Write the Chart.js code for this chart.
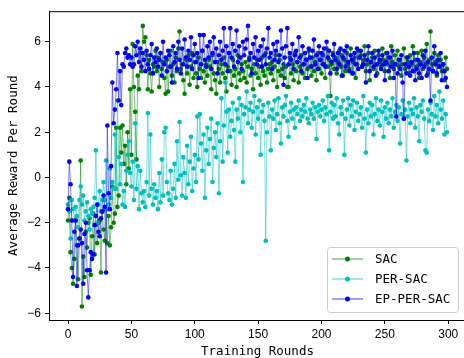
<!DOCTYPE html>
<html>
<head>
<meta charset="utf-8">
<script src="https://cdn.jsdelivr.net/npm/chart.js@4/dist/chart.umd.min.js"></script>
<style>
  html, body { margin:0; padding:0; background:#fff; overflow:hidden; }
  #wrap { width:464px; height:358px; overflow:hidden; }
</style>
</head>
<body>
<div id="wrap"><canvas id="rewardChart" width="470" height="358"></canvas></div>
<script>
// rounds 0..299 on the x axis
const ROUNDS = Array.from({length: 300}, (_, i) => i);
const X_TICKS = [0, 50, 100, 150, 200, 250, 300];
const Y_TICKS = [-6, -4, -2, 0, 2, 4, 6];
const SERIES_NAMES = ['SAC', 'PER-SAC', 'EP-PER-SAC'];

const SAC = [
  -1.9, -0.9, -3.3, -4.0, -4.7, -3.6, -1.9, -3.0, -4.5, -2.7,
  0.75, -5.7, -3.5, -4.4, -2.4, -3.1, -2.0, -1.8, -4.3, -2.6,
  -1.6, -3.4, -2.1, -2.9, -2.0, -1.9, -4.2, -1.5, -2.3, -2.8,
  -1.4, -2.9, -1.7, -3.0, -2.2, -0.4, -2.0, -1.6, 2.2, -1.3,
  -0.8, 2.2, 1.1, 2.3, 0.6, 1.4, -0.3, 2.0, 0.4, 3.9,
  1.0, 5.9, 4.0, 2.9, 0.8, 4.5, 3.9, 5.5, 4.7, 6.7,
  6.0, 6.2, 5.4, 3.9, 5.2, 4.6, 3.8, 5.0, 4.9, 5.6,
  4.7, 5.3, 4.0, 5.5, 4.8, 5.1, 4.4, 3.7, 5.2, 3.8,
  4.9, 5.6, 4.5, 5.0, 4.2, 5.3, 4.7, 5.7, 6.45, 4.8,
  5.0, 4.3, 3.7, 5.2, 4.6, 5.4, 4.1, 4.9, 5.5, 4.4,
  5.1, 4.6, 4.0, 5.3, 4.8, 4.4, 5.6, 4.7, 4.2, 5.0,
  4.5, 5.2, 4.9, 3.9, 5.4, 4.6, 4.3, 3.7, 5.1, 4.8,
  4.2, 5.0, 4.6, 5.3, 4.4, 3.8, 4.9, 5.5, 4.7, 4.1,
  5.2, 4.5, 4.8, 4.0, 5.4, 4.6, 4.3, 5.0, 4.7, 4.4,
  5.1, 4.2, 4.9, 5.3, 4.5, 4.8, 3.9, 5.0, 4.6, 5.2,
  4.4, 4.9, 4.1, 5.3, 4.7, 4.5, 5.5, 4.2, 4.8, 5.0,
  4.6, 5.1, 4.3, 4.9, 5.4, 4.0, 4.7, 5.2, 4.5, 4.8,
  5.0, 4.4, 4.9, 4.0, 4.0, 5.3, 4.6, 5.0, 4.3, 5.5,
  4.7, 5.1, 4.2, 4.9, 5.4, 4.6, 5.0, 4.4, 5.2, 4.8,
  5.6, 4.9, 4.5, 5.3, 4.7, 5.1, 4.3, 5.5, 4.8, 5.2,
  4.6, 5.4, 5.0, 4.4, 5.7, 4.9, 5.2, 3.6, 5.0, 5.5,
  4.8, 5.3, 4.6, 5.1, 5.6, 4.9, 5.4, 4.5, 5.2, 4.7,
  5.5, 5.0, 4.8, 5.7, 4.6, 5.1, 5.3, 4.4, 5.0, 5.6,
  5.3, 5.4, 4.9, 5.2, 5.8, 4.7, 5.0, 5.5, 4.3, 5.1,
  5.3, 4.8, 5.6, 5.0, 4.6, 5.4, 5.1, 4.9, 5.7, 5.2,
  4.7, 5.5, 5.0, 5.3, 4.4, 5.8, 5.1, 4.8, 5.4, 5.0,
  5.6, 4.9, 5.2, 4.5, 5.0, 5.7, 4.8, 5.3, 5.1, 4.6,
  5.4, 5.0, 5.8, 4.7, 5.2, 4.9, 5.5, 4.4, 5.1, 5.6,
  4.8, 5.3, 5.0, 5.9, 4.6, 5.2, 6.45, 5.0, 4.7, 5.5,
  5.1, 4.5, 5.4, 4.9, 5.2, 4.7, 5.0, 4.3, 5.3, 4.8
];

const PER_SAC = [
  -1.2, -1.5, -2.7, -1.0, -1.4, -1.9, -1.3, -1.7, -2.2, -1.0,
  -0.4, -1.2, -0.8, -1.9, -1.5, -1.1, -1.7, -2.3, -1.4, -1.6,
  -1.3, -0.9, 1.2, -2.0, -1.2, -0.6, -1.5, -1.0, -0.2, -1.0,
  0.75, -1.4, -1.2, 0.4, -0.9, -0.2, -0.5, 1.9, -0.5, 3.4,
  0.9, -0.3, 0.6, -1.2, -0.6, -1.3, 0.3, 1.0, 1.6, 0.2,
  -0.4, 0.7, -1.0, 2.4, -0.5, 0.5, -1.4, 0.3, -0.7, -1.1,
  -0.6, -1.3, -0.2, 2.85, -0.8, 1.9, -0.5, -1.2, -0.3, -0.9,
  -0.6, -1.4, 0.2, -1.1, 0.8, -0.8, 2.0, 2.2, -0.2, -0.7,
  -1.0, 0.3, -1.2, -0.5, 0.6, -0.9, 1.6, -0.1, 2.45, 0.1,
  -0.8, 0.9, 0.2, -0.9, 1.4, -0.3, 0.7, 1.8, -0.6, 0.4,
  1.0, -0.2, 2.7, 0.8, 2.8, 1.5, 0.3, 1.9, -0.9, 1.2,
  2.2, 0.6, 1.7, 2.6, -0.2, 1.3, 2.0, 0.9, 2.4, -0.7,
  1.6, 3.5, 0.7, 2.3, 4.2, 2.9, 1.1, 3.0, 1.8, 2.5,
  3.3, 2.1, 0.7, 3.0, 2.6, 3.5, 2.0, 3.2, -0.2, 2.8,
  3.1, 3.8, 2.4, 3.0, 3.3, 2.2, 2.9, 3.6, 1.9, 3.1,
  2.6, 3.4, 1.0, 2.9, 3.2, 2.5, -2.8, 2.0, 3.3, 2.7,
  1.2, 3.0, 2.6, 3.4, 2.1, 2.8, 3.5, 2.4, 1.5, 3.1,
  2.7, 3.2, 3.6, 2.5, 1.8, 2.9, 3.3, 2.6, 3.0, 2.2,
  3.1, 2.8, 3.4, 2.5, 3.0, 2.7, 3.2, 2.9, 3.5, 2.6,
  2.4, 3.0, 2.8, 3.3, 2.6, 3.1, 1.7, 2.9, 3.2, 2.7,
  3.0, 3.4, 2.5, 3.1, 2.8, 3.6, 1.2, 2.9, 3.3, 2.6,
  3.2, 2.7, 3.5, 2.4, 1.9, 3.1, 2.8, 3.4, 1.0, 2.6,
  3.0, 3.5, 2.3, 3.2, 2.7, 3.4, 2.1, 2.9, 3.3, 2.5,
  2.8, 3.1, 2.2, 3.6, 2.6, 1.1, 3.0, 2.4, 3.3, 2.7,
  3.2, 1.9, 2.8, 3.5, 2.5, 3.0, 2.3, 3.4, 2.9, 1.8,
  3.1, 2.6, 3.3, 2.4, 3.0, 2.7, 3.5, 2.2, 2.9, 3.2,
  2.5, 3.1, 1.5, 2.8, 3.4, 2.6, 3.0, 0.75, 2.7, 3.3,
  2.4, 3.0, 2.8, 3.5, 2.2, 3.1, 2.7, 1.6, 3.2, 2.9,
  3.4, 2.6, 1.2, 1.1, 3.0, 2.5, 3.3, 2.8, 2.1, 3.6,
  2.7, 3.2, 2.4, 3.8, 3.0, 2.6, 3.4, 1.9, 2.8, 2.0
];

const EP_PER_SAC = [
  -1.4, 0.7, -0.3, -1.9, -4.4, -2.4, -1.9, -4.8, -3.0, -2.7,
  -2.3, -2.9, -4.7, -2.5, -2.0, -4.1, -5.3, -4.1, -3.3, -3.6,
  -3.4, -2.1, -1.7, -1.2, -2.4, -2.6, -1.8, -1.5, -0.8, -1.3,
  -4.2, 2.3, -0.7, -1.4, 0.5, 4.2, 2.4, 3.0, 3.9, 5.5,
  3.4, 4.7, 3.2, 5.0, 4.9, 5.5, 5.7, 5.3, 5.4, 5.0,
  5.3, 4.9, 5.0, 5.8, 5.4, 6.0, 5.1, 5.7, 4.9, 5.5,
  5.2, 4.7, 5.6, 5.0, 4.8, 5.4, 5.9, 4.6, 5.3, 5.1,
  5.7, 4.9, 5.2, 5.5, 4.5, 6.0, 5.0, 5.3, 4.7, 5.6,
  5.4, 4.9, 4.2, 5.8, 5.1, 5.5, 4.8, 6.0, 5.2, 4.6,
  5.7, 5.0, 6.1, 5.3, 4.9, 5.6, 5.2, 6.2, 4.8, 5.4,
  5.9, 5.1, 5.5, 4.4, 6.3, 5.0, 5.6, 6.3, 5.2, 4.9,
  5.8, 5.3, 6.0, 4.8, 5.5, 6.2, 5.1, 5.7, 4.6, 5.4,
  6.0, 5.2, 5.6, 6.6, 5.0, 5.8, 4.7, 5.5, 6.6, 5.3,
  5.9, 4.9, 5.6, 6.5, 5.1, 5.8, 5.3, 4.8, 6.0, 5.4,
  5.7, 6.1, 6.7, 5.2, 5.5, 4.6, 5.9, 5.3, 6.2, 5.0,
  5.6, 5.2, 5.8, 4.9, 6.1, 5.4, 5.0, 5.7, 6.6, 5.3,
  5.5, 4.8, 5.9, 5.2, 5.6, 6.0, 5.1, 5.4, 6.5, 5.7,
  4.1, 5.3, 5.8, 6.6, 5.0, 5.5, 5.2, 5.9, 4.8, 5.4,
  5.6, 5.1, 6.2, 5.3, 4.7, 5.8, 5.0, 5.5, 5.2, 4.4,
  5.7, 5.3, 4.9, 5.6, 6.1, 5.0, 5.4, 4.8, 5.8, 5.2,
  5.5, 5.0, 5.7, 4.9, 6.0, 5.3, 5.6, 4.6, 5.1, 5.4,
  5.9, 5.2, 4.8, 5.5, 5.0, 5.7, 4.5, 5.3, 5.6, 4.9,
  5.8, 5.1, 4.7, 5.4, 5.2, 4.6, 5.5, 5.0, 5.7, 4.8,
  5.3, 5.6, 4.9, 5.0, 5.4, 4.2, 5.2, 5.8, 4.7, 5.1,
  5.5, 4.9, 5.3, 4.5, 5.0, 5.6, 5.2, 4.8, 5.4, 5.0,
  4.3, 5.1, 5.5, 4.7, 5.3, 4.9, 5.6, 4.4, 5.0, 2.7,
  4.6, 5.2, 4.8, 5.4, 4.2, 2.6, 5.0, 4.6, 5.3, 4.9,
  4.5, 5.1, 4.7, 5.5, 4.3, 4.8, 5.2, 4.6, 5.0, 4.4,
  5.4, 4.9, 5.6, 4.5, 5.1, 4.8, 3.4, 5.3, 4.7, 5.8,
  5.0, 4.6, 5.2, 4.9, 5.5, 4.3, 5.0, 4.7, 4.4, 4.0
];

const TICK_FONT = { family: 'Liberation Sans, Arial, sans-serif', size: 12 };
const TITLE_FONT = { family: 'DejaVu Sans Mono, Liberation Mono, monospace', size: 12.5 };

const COLORS = {
  'SAC': ['rgba(0,128,0,0.5)', '#008000'],
  'PER-SAC': ['rgba(0,191,191,0.5)', '#00bfbf'],
  'EP-PER-SAC': ['rgba(0,0,255,0.5)', '#0000ff']
};

const pts = arr => arr.map((v, i) => ({ x: ROUNDS[i], y: v }));
const mkSet = (name, values, order) => ({
  label: name,
  data: pts(values),
  borderColor: COLORS[name][0],
  backgroundColor: COLORS[name][1],
  pointBackgroundColor: COLORS[name][1],
  pointBorderWidth: 0,
  pointRadius: 2.3,
  borderWidth: 1,
  tension: 0,
  order
});

const minus = v => String(v).replace('-', '\u2212');

// matplotlib style legend (lower right, inside the axes) + top frame line
const mplLegend = {
  id: 'mplLegend',
  afterDraw(chart) {
    const ctx = chart.ctx, ca = chart.chartArea;
    ctx.save();
    ctx.strokeStyle = '#000';
    ctx.lineWidth = 1;
    ctx.beginPath();
    ctx.moveTo(ca.left, ca.top + 0.5);
    ctx.lineTo(ca.right, ca.top + 0.5);
    ctx.stroke();

    const w = 131, h = 65;
    const x = ca.right - 8 - w, y = ca.bottom - 8 - h;
    ctx.fillStyle = 'rgba(255,255,255,0.8)';
    ctx.strokeStyle = '#cccccc';
    ctx.beginPath();
    ctx.roundRect(x + 0.5, y + 0.5, w, h, 3);
    ctx.fill();
    ctx.stroke();
    ctx.font = '12.5px "DejaVu Sans Mono", monospace';
    ctx.textBaseline = 'middle';
    SERIES_NAMES.forEach((name, i) => {
      const ry = y + 12 + i * 20;
      ctx.strokeStyle = COLORS[name][0];
      ctx.lineWidth = 1.5;
      ctx.beginPath();
      ctx.moveTo(x + 5, ry);
      ctx.lineTo(x + 36, ry);
      ctx.stroke();
      ctx.fillStyle = COLORS[name][1];
      ctx.beginPath();
      ctx.arc(x + 20.5, ry, 2.5, 0, Math.PI * 2);
      ctx.fill();
      ctx.fillStyle = '#000';
      ctx.fillText(name, x + 48, ry + 1);
    });
    ctx.restore();
  }
};

new Chart(document.getElementById('rewardChart'), {
  type: 'line',
  data: {
    datasets: [
      mkSet('SAC', SAC, 3),
      mkSet('PER-SAC', PER_SAC, 2),
      mkSet('EP-PER-SAC', EP_PER_SAC, 1)
    ]
  },
  options: {
    responsive: false,
    animation: false,
    devicePixelRatio: 1,
    layout: { padding: { top: 7, right: 0, left: 0, bottom: 0 } },
    plugins: { legend: { display: false }, tooltip: { enabled: false } },
    scales: {
      x: {
        type: 'linear',
        min: -15, max: 314,
        afterBuildTicks: s => { s.ticks = X_TICKS.map(v => ({ value: v })); },
        afterFit: s => { s.height = 38; },
        ticks: { font: TICK_FONT, color: '#000', padding: 3, maxRotation: 0, autoSkip: false },
        grid: { drawOnChartArea: false, drawTicks: true, tickLength: 4, tickColor: '#000' },
        border: { display: true, color: '#000', width: 1 },
        title: { display: true, text: 'Training Rounds', font: TITLE_FONT, color: '#000', padding: { top: 0, bottom: -1 } }
      },
      y: {
        min: -6.3, max: 7.35,
        afterBuildTicks: s => { s.ticks = Y_TICKS.map(v => ({ value: v })); },
        afterFit: s => { s.width = 49; },
        ticks: { font: TICK_FONT, color: '#000', padding: 4, callback: v => minus(v) },
        grid: { drawOnChartArea: false, drawTicks: true, tickLength: 4, tickColor: '#000' },
        border: { display: true, color: '#000', width: 1 },
        title: { display: true, text: 'Average Reward Per Round', font: TITLE_FONT, color: '#000', padding: { top: 6, bottom: 0 } }
      }
    }
  },
  plugins: [mplLegend]
});
</script>
</body>
</html>
